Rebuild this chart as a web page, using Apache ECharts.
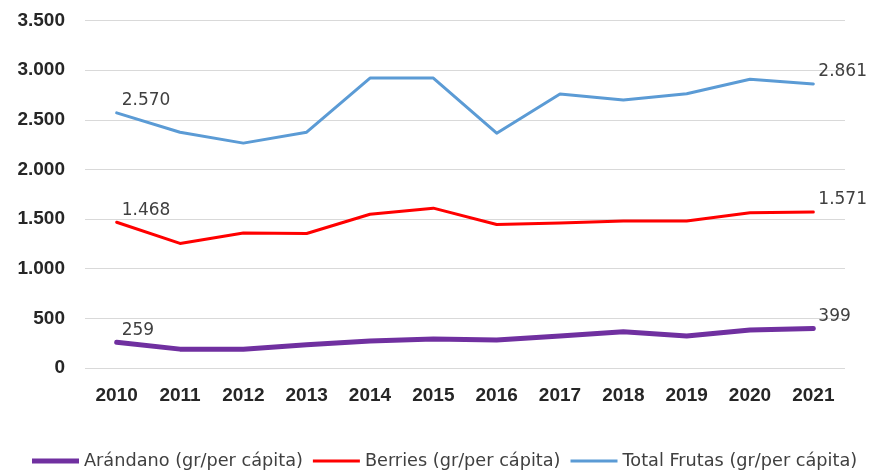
<!DOCTYPE html>
<html>
<head>
<meta charset="utf-8">
<script src="https://cdn.jsdelivr.net/npm/echarts@6/dist/echarts.min.js"></script>
<style>
  html, body { margin: 0; padding: 0; background: #fff; }
  #chart { width: 873px; height: 476px; }
</style>
</head>
<body>
<div id="chart"></div>
<script>
var years = ['2010', '2011', '2012', '2013', '2014', '2015', '2016', '2017', '2018', '2019', '2020', '2021'];
var arandano = [259, 190, 190, 233, 272, 293, 283, 322, 365, 322, 382, 399];
var berries = [1468, 1255, 1360, 1355, 1549, 1610, 1446, 1460, 1480, 1480, 1563, 1571];
var totalFrutas = [2570, 2375, 2265, 2375, 2920, 2920, 2365, 2760, 2700, 2763, 2909, 2861];

var numFmt = function (v) {
  return String(v).replace(/\B(?=(\d{3})+(?!\d))/g, '.');
};

// only first and last points carry a label
var endLabels = function (arr) {
  return arr.map(function (v, i) {
    if (i === 0 || i === arr.length - 1) {
      return {
        value: v,
        label: {
          show: true,
          position: 'right',
          distance: 5,
          offset: [0, -12],
          fontFamily: 'DejaVu Sans',
          fontSize: 17,
          color: '#404040',
          formatter: function (p) { return numFmt(p.value); }
        }
      };
    }
    return v;
  });
};

var lineSeries = function (name, arr, color, width) {
  return {
    name: name,
    type: 'line',
    data: endLabels(arr),
    symbol: 'circle',
    symbolSize: 0,
    showSymbol: true,
    color: color,
    lineStyle: { color: color, width: width, cap: 'round', join: 'round' }
  };
};

var chart = echarts.init(document.getElementById('chart'));
chart.setOption({
  animation: false,
  backgroundColor: '#fff',
  grid: { left: 85, right: 28, top: 20.5, bottom: 108 },
  legend: {
    left: 32,
    width: 841,
    top: 452,
    padding: 0,
    itemWidth: 47,
    itemHeight: 5,
    itemGap: 10,
    textStyle: { fontFamily: 'DejaVu Sans', fontSize: 17.7, color: '#404040' },
    data: [
      { name: 'Arándano (gr/per cápita)', icon: 'path://M0,0H48V5H0Z' },
      { name: 'Berries (gr/per cápita)', icon: 'path://M0,0H48V3H0Z' },
      { name: 'Total Frutas (gr/per cápita)', icon: 'path://M0,0H48V3H0Z' }
    ]
  },
  xAxis: {
    type: 'category',
    data: years,
    axisLine: { show: false },
    axisTick: { show: false },
    axisLabel: {
      margin: 18,
      fontFamily: 'Liberation Sans',
      fontWeight: 'bold',
      fontSize: 19,
      color: '#262626'
    }
  },
  yAxis: {
    type: 'value',
    min: 0,
    max: 3500,
    interval: 500,
    axisLine: { show: false },
    axisTick: { show: false },
    splitLine: { lineStyle: { color: '#d9d9d9', width: 1 } },
    axisLabel: {
      margin: 20,
      fontFamily: 'Liberation Sans',
      fontWeight: 'bold',
      fontSize: 19,
      color: '#262626',
      formatter: function (v) { return numFmt(v); }
    }
  },
  series: [
    lineSeries('Arándano (gr/per cápita)', arandano, '#7030a0', 5),
    lineSeries('Berries (gr/per cápita)', berries, '#ff0000', 3),
    lineSeries('Total Frutas (gr/per cápita)', totalFrutas, '#5b9bd5', 3)
  ]
});
</script>
</body>
</html>
